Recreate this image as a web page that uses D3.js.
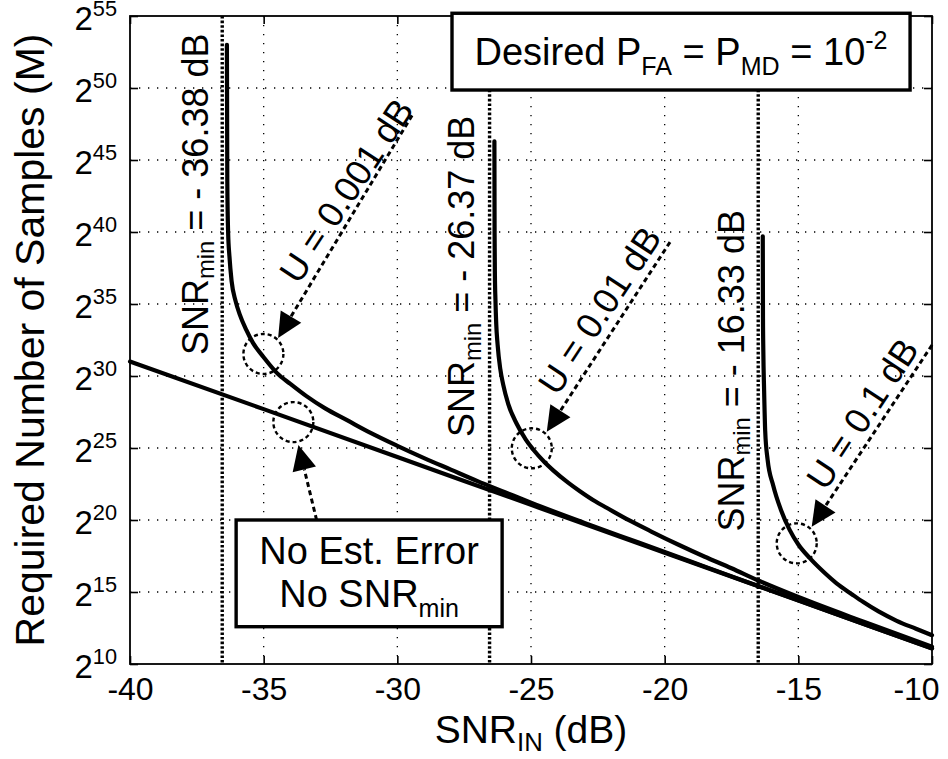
<!DOCTYPE html>
<html lang="en">
<head>
<meta charset="utf-8">
<title>Required Number of Samples</title>
<script src="https://cdn.jsdelivr.net/npm/d3@7"></script>
<style>
  html, body { margin: 0; padding: 0; background: #fff; }
  svg { font-family: "Liberation Sans", Arial, Helvetica, sans-serif; }
  text { white-space: pre; }
  .grid line { stroke: #000; stroke-width: 1.3; stroke-dasharray: 1.3,7.7; }
  .axis path { display: none; }
  .axis line { stroke: #000; stroke-width: 1.6; }
</style>
</head>
<body>
<script>
// [SNR_IN (dB), log2 of required samples M]
let noError = [[-40, 31.0], [-35, 27.7], [-30, 24.38], [-25, 21.05], [-20, 17.73], [-15, 14.41], [-10, 11.08]];

let u001 = [[-36.375, 53.0], [-36.36, 43.5], [-36.33, 40.0], [-36.28, 38.3], [-36.2, 36.6], [-36.05, 35.2],
  [-35.9, 34.3], [-35.65, 33.2], [-35.4, 32.3], [-35.0, 31.3], [-34.5, 30.2], [-34.0, 29.45], [-33.4, 28.6],
  [-32.7, 27.75], [-31.9, 26.95], [-31.0, 26.05], [-30.0, 25.15], [-29.0, 24.3], [-28.0, 23.5], [-27.0, 22.7],
  [-26.0, 21.95], [-25.0, 21.2], [-23.0, 19.8], [-21.0, 18.45], [-19.0, 17.1], [-17.0, 15.75], [-15.0, 14.42],
  [-12.5, 12.75], [-10.0, 11.1]];

let u01 = [[-26.369, 46.3], [-26.362, 40.0], [-26.35, 37.0], [-26.33, 35.3], [-26.3, 33.6], [-26.25, 32.2],
  [-26.15, 30.5], [-26.04, 29.4], [-25.85, 28.05], [-25.54, 26.7], [-25.2, 25.6], [-24.91, 24.88], [-24.5, 24.03],
  [-24.17, 23.45], [-23.6, 22.58], [-23.17, 22.0], [-22.6, 21.3], [-22.17, 20.85], [-21.3, 19.95], [-20.5, 19.2],
  [-19.5, 18.3], [-18.5, 17.45], [-17.5, 16.65], [-16.5, 15.8], [-15.0, 14.65], [-12.5, 12.9], [-10.0, 11.2]];

let u1 = [[-16.33, 39.7], [-16.322, 34.0], [-16.31, 31.8], [-16.28, 29.0], [-16.24, 26.2], [-16.15, 24.2],
  [-15.94, 22.4], [-15.65, 20.7], [-15.32, 19.3], [-15.0, 18.3], [-14.57, 17.35], [-14.0, 16.3], [-13.57, 15.6],
  [-13.0, 14.85], [-12.57, 14.3], [-12.0, 13.65], [-11.32, 13.0], [-10.6, 12.45], [-10.0, 12.0]];

let series = [noError, u001, u01, u1];

// dotted SNR_min markers and their labels
let snrMinLines = [-36.55, -26.55, -16.5];
let snrMinText = [" = - 36.38 dB", " = - 26.37 dB", " = - 16.33 dB"];
let snrMinPos = [[-37.10, 31.46], [-27.12, 25.76], [-17.04, 19.2]];

// "U = ..." annotations: circle centre, arrow tail, arrow tip, text centre
let uText = ["U = 0.001 dB", "U = 0.01 dB", "U = 0.1 dB"];
let uCircle = [[-35.01, 31.53], [-24.97, 24.98], [-15.06, 18.38]];
let uTail = [[-29.45, 48.1], [-19.8, 39.3], [-10.0, 32.15]];
let uTip = [[-34.46, 32.64], [-24.41, 26.13], [-14.5, 19.53]];
let uTextPos = [[-31.92, 42.9], [-22.45, 34.58], [-12.62, 27.4]];

let noErrCircle = [-33.89, 26.8];
let noErrTail = [-33.02, 20.0];
let noErrTip = [-33.7, 25.2];

let xTicks = [-40, -35, -30, -25, -20, -15, -10];
let yTicks = [10, 15, 20, 25, 30, 35, 40, 45, 50, 55];

let w = 948, h = 759;
let pLeft = 130, pRight = 932, pTop = 16, pBottom = 664;

let svg = d3.select("body").append("svg").attr("width", w).attr("height", h);

let x = d3.scaleLinear().domain([-40, -10]).range([pLeft, pRight]);
let y = d3.scaleLinear().domain([10, 55]).range([pBottom, pTop]);

// rich text helper: parts = [[str, "n"|"sub"|"sup"]]
function rich(t, parts, size, subShift) {
  let cur = 0;
  parts.forEach(p => {
    let target = p[1] == "sub" ? size * (subShift || 0.25) : p[1] == "sup" ? -size * 0.42 : 0;
    t.append("tspan")
      .attr("dy", target - cur)
      .attr("font-size", p[1] == "n" ? size : size * 0.66)
      .text(p[0]);
    cur = target;
  });
}

// grid
svg.append("g").attr("class", "grid")
  .selectAll("line").data(xTicks.slice(1, -1)).enter().append("line")
  .attr("x1", d => x(d)).attr("x2", d => x(d)).attr("y1", pTop).attr("y2", pBottom);
svg.append("g").attr("class", "grid")
  .selectAll("line").data(yTicks.slice(1, -1)).enter().append("line")
  .attr("y1", d => y(d)).attr("y2", d => y(d)).attr("x1", pLeft).attr("x2", pRight);

// axes (inward ticks on all four sides)
let gx = svg.append("g").attr("class", "axis")
  .attr("transform", "translate(0," + pBottom + ")")
  .call(d3.axisBottom(x).tickValues(xTicks).tickSizeInner(-8).tickSizeOuter(0).tickPadding(13)
    .tickFormat(d => String(d)));
gx.attr("font-family", null).attr("font-size", null);
gx.selectAll("text").attr("font-size", 32).attr("fill", "#000")
  .attr("dx", d => d == -10 ? -16 : 0);
svg.append("g").attr("class", "axis")
  .attr("transform", "translate(0," + pTop + ")")
  .call(d3.axisTop(x).tickValues(xTicks).tickSizeInner(-8).tickSizeOuter(0).tickFormat(""));
svg.append("g").attr("class", "axis")
  .attr("transform", "translate(" + pRight + ",0)")
  .call(d3.axisRight(y).tickValues(yTicks).tickSizeInner(-8).tickSizeOuter(0).tickFormat(""));
let gy = svg.append("g").attr("class", "axis")
  .attr("transform", "translate(" + pLeft + ",0)")
  .call(d3.axisLeft(y).tickValues(yTicks).tickSizeInner(-8).tickSizeOuter(0).tickFormat(""));
gy.attr("font-family", null).attr("font-size", null);
gy.selectAll(".tick").append("text")
  .attr("x", -13).attr("y", 13)
  .attr("text-anchor", "end").attr("fill", "#000")
  .each(function(d) {
    rich(d3.select(this), [["2", "n"], [String(d), "sup"]], 33);
  });

svg.append("rect")
  .attr("x", pLeft).attr("y", pTop).attr("width", pRight - pLeft).attr("height", pBottom - pTop)
  .attr("fill", "none").attr("stroke", "#000").attr("stroke-width", 1.8);

// SNR_min dotted markers
svg.append("g").selectAll("line").data(snrMinLines).enter().append("line")
  .attr("x1", d => x(d)).attr("x2", d => x(d)).attr("y1", pTop).attr("y2", pBottom)
  .attr("stroke", "#000").attr("stroke-width", 3.4).attr("stroke-dasharray", "2.6,2");

// curves
let line = d3.line().x(d => x(d[0])).y(d => y(d[1])).curve(d3.curveMonotoneX);
svg.append("g").selectAll("path").data(series).enter().append("path")
  .attr("d", line)
  .attr("fill", "none").attr("stroke", "#000").attr("stroke-width", 4.2)
  .attr("stroke-linejoin", "round").attr("stroke-linecap", "round");

// dashed circles
svg.append("g").selectAll("circle").data(uCircle.concat([noErrCircle])).enter().append("circle")
  .attr("cx", d => x(d[0])).attr("cy", d => y(d[1])).attr("r", 20)
  .attr("fill", "none").attr("stroke", "#000").attr("stroke-width", 2.4).attr("stroke-dasharray", "4,3");

// dashed arrows
function arrow(tail, tip) {
  let tx = x(tail[0]), ty = y(tail[1]), px = x(tip[0]), py = y(tip[1]);
  let len = Math.hypot(px - tx, py - ty);
  let ux = (px - tx) / len, uy = (py - ty) / len;
  let bx = px - ux * 25, by = py - uy * 25;
  let nx = -uy * 12, ny = ux * 12;
  svg.append("line")
    .attr("x1", tx).attr("y1", ty).attr("x2", bx).attr("y2", by)
    .attr("stroke", "#000").attr("stroke-width", 3).attr("stroke-dasharray", "5,3.5");
  svg.append("path")
    .attr("d", "M" + px + "," + py + "L" + (bx + nx) + "," + (by + ny) + "L" + (bx - nx) + "," + (by - ny) + "Z")
    .attr("fill", "#000");
}
uTail.forEach((t, i) => arrow(t, uTip[i]));
arrow(noErrTail, noErrTip);

// U labels
uText.forEach((s, i) => {
  svg.append("text")
    .attr("transform", "translate(" + x(uTextPos[i][0]) + "," + y(uTextPos[i][1]) + ") rotate(-56.5)")
    .attr("text-anchor", "middle").attr("dy", "0.36em")
    .attr("font-size", 36).text(s);
});

// SNR_min labels
snrMinText.forEach((s, i) => {
  let t = svg.append("text")
    .attr("transform", "translate(" + x(snrMinPos[i][0]) + "," + y(snrMinPos[i][1]) + ") rotate(-90)");
  rich(t, [["SNR", "n"], ["min", "sub"], [s, "n"]], 36, 0.18);
});

// box: desired probabilities
let b1x0 = x(-27.955), b1x1 = x(-10.82), b1y0 = y(55.19), b1y1 = y(49.86);
svg.append("rect")
  .attr("x", b1x0).attr("y", b1y0).attr("width", b1x1 - b1x0).attr("height", b1y1 - b1y0)
  .attr("fill", "#fff").attr("stroke", "#000").attr("stroke-width", 3.4);
let t1 = svg.append("text")
  .attr("x", (b1x0 + b1x1) / 2).attr("y", b1y0 + 52)
  .attr("text-anchor", "middle");
rich(t1, [["Desired P", "n"], ["FA", "sub"], [" = P", "n"], ["MD", "sub"], [" = 10", "n"], ["-2", "sup"]], 38);

// box: no estimation error
let b2x0 = x(-36.03), b2x1 = x(-26.08), b2y0 = y(20.0), b2y1 = y(12.59);
svg.append("rect")
  .attr("x", b2x0).attr("y", b2y0).attr("width", b2x1 - b2x0).attr("height", b2y1 - b2y0)
  .attr("fill", "#fff").attr("stroke", "#000").attr("stroke-width", 3.4);
svg.append("text")
  .attr("x", (b2x0 + b2x1) / 2).attr("y", b2y0 + 44)
  .attr("text-anchor", "middle").attr("font-size", 38)
  .text("No Est. Error");
let t2 = svg.append("text")
  .attr("x", (b2x0 + b2x1) / 2).attr("y", b2y0 + 87)
  .attr("text-anchor", "middle");
rich(t2, [["No SNR", "n"], ["min", "sub"]], 38);

// axis titles
let xt = svg.append("text")
  .attr("x", (pLeft + pRight) / 2).attr("y", 743)
  .attr("text-anchor", "middle");
rich(xt, [["SNR", "n"], ["IN", "sub"], [" (dB)", "n"]], 39, 0.2);

svg.append("text")
  .attr("transform", "translate(44," + ((pTop + pBottom) / 2) + ") rotate(-90)")
  .attr("text-anchor", "middle").attr("font-size", 41)
  .text("Required Number of Samples (M)");
</script>
</body>
</html>
